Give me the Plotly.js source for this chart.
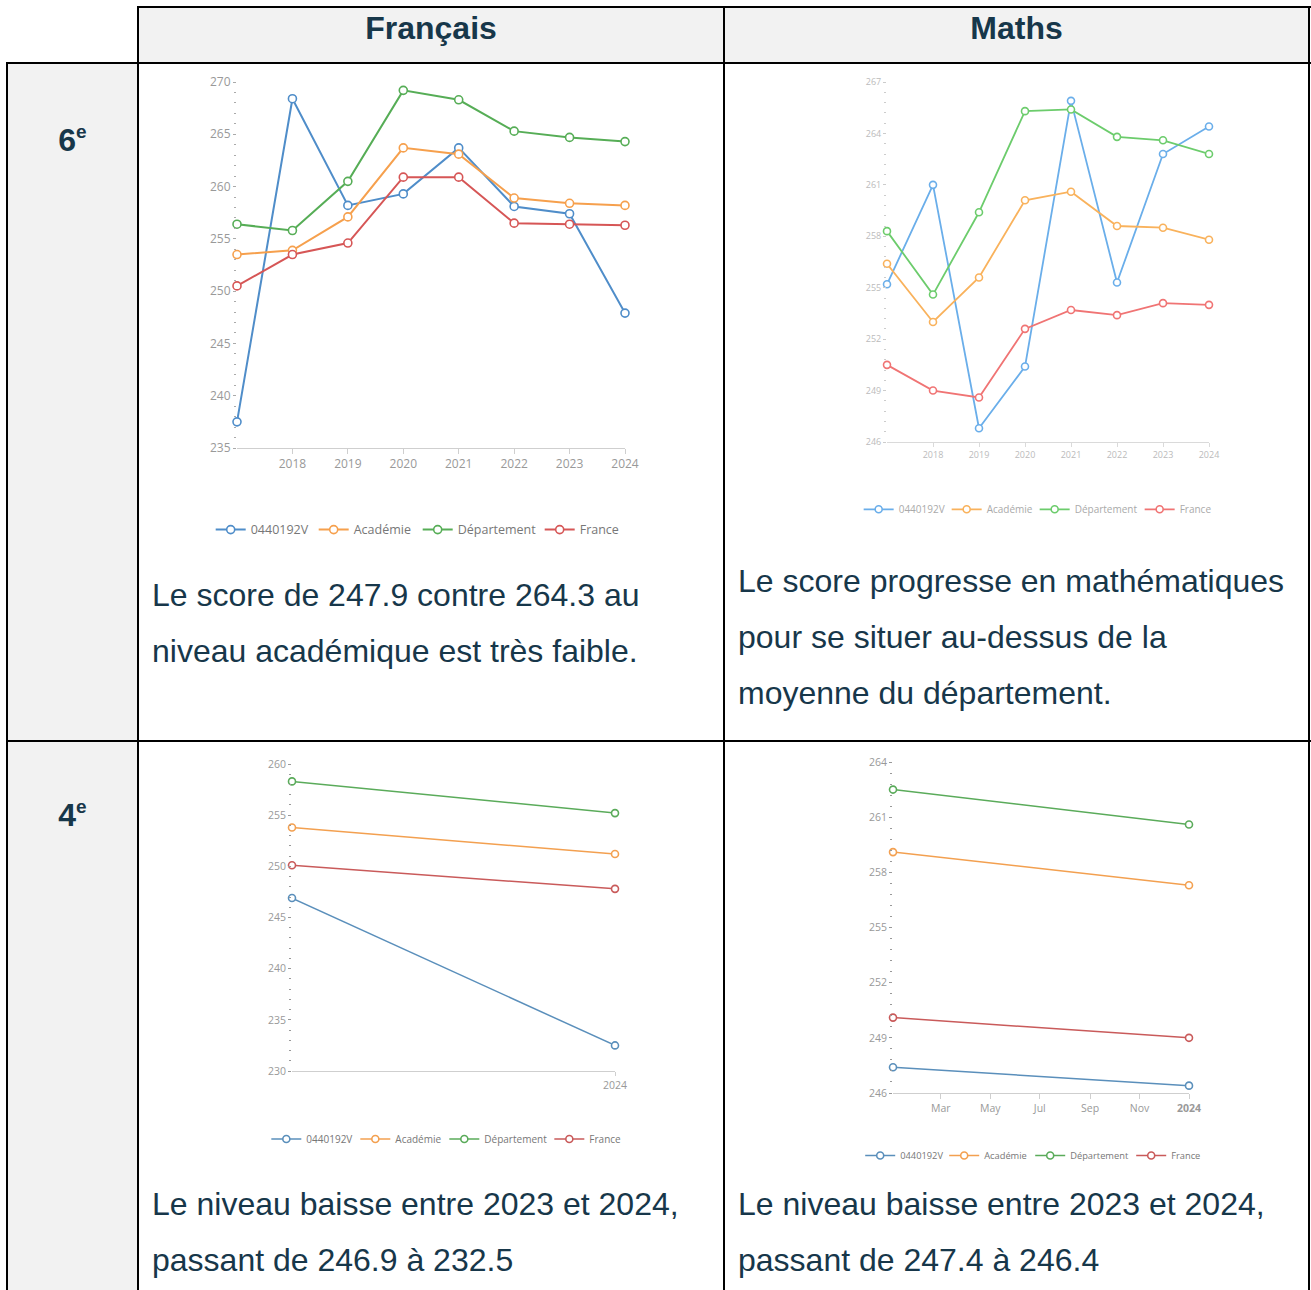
<!DOCTYPE html>
<html><head><meta charset="utf-8">
<script src="https://cdn.plot.ly/plotly-3.0.1.min.js"></script>
<style>
html,body{margin:0;padding:0;background:#fff;}
body{width:1311px;height:1290px;position:relative;overflow:hidden;font-family:"Liberation Sans",Arial,Helvetica,sans-serif;}
.abs{position:absolute;}
.bg{background:#f2f2f2;}
.ln{background:#000;}
.hdr{font-weight:bold;font-size:32px;color:#17374a;line-height:56px;text-align:center;white-space:nowrap;}
.rowh{font-weight:bold;font-size:32px;color:#17374a;line-height:56px;text-align:center;}
.rowh sup{font-size:19px;vertical-align:0;position:relative;top:-13px;}
.txt{font-size:32px;color:#17374a;line-height:56px;white-space:nowrap;}
.chart{position:absolute;}
</style></head>
<body>
<div class="abs bg" style="left:138px;top:7px;width:1171px;height:56px;"></div>
<div class="abs bg" style="left:7px;top:63px;width:131px;height:1227px;"></div>

<div class="abs hdr" style="left:138px;top:0px;width:586px;">Français</div>
<div class="abs hdr" style="left:724px;top:0px;width:585px;">Maths</div>
<div class="abs rowh" style="left:7px;top:112px;width:131px;">6<sup>e</sup></div>
<div class="abs rowh" style="left:7px;top:787px;width:131px;">4<sup>e</sup></div>

<div id="c1" class="chart" style="left:140px;top:65px;width:583px;height:500px;"></div>
<div id="c2" class="chart" style="left:726px;top:65px;width:582px;height:480px;"></div>
<div id="c3" class="chart" style="left:140px;top:745px;width:583px;height:440px;"></div>
<div id="c4" class="chart" style="left:726px;top:745px;width:582px;height:440px;"></div>

<div class="abs txt" style="left:152px;top:567px;">Le score de 247.9 contre 264.3 au<br>niveau académique est très faible.</div>
<div class="abs txt" style="left:738px;top:553px;">Le score progresse en mathématiques<br>pour se situer au-dessus de la<br>moyenne du département.</div>
<div class="abs txt" style="left:152px;top:1176px;">Le niveau baisse entre 2023 et 2024,<br>passant de 246.9 à 232.5</div>
<div class="abs txt" style="left:738px;top:1176px;">Le niveau baisse entre 2023 et 2024,<br>passant de 247.4 à 246.4</div>

<!-- table lines -->
<div class="abs ln" style="left:137px;top:6px;width:1174px;height:2px;"></div>
<div class="abs ln" style="left:6px;top:62px;width:1305px;height:2px;"></div>
<div class="abs ln" style="left:6px;top:740px;width:1305px;height:2px;"></div>
<div class="abs ln" style="left:6px;top:62px;width:2px;height:1228px;"></div>
<div class="abs ln" style="left:137px;top:6px;width:2px;height:1284px;"></div>
<div class="abs ln" style="left:723px;top:6px;width:2px;height:1284px;"></div>
<div class="abs ln" style="left:1308px;top:6px;width:2px;height:1284px;"></div>

<script>
// ---------- DATA ----------
const seriesNames = ["0440192V", "Académie", "Département", "France"];

const years6 = [2017, 2018, 2019, 2020, 2021, 2022, 2023, 2024];
const years6Ticks = [2018, 2019, 2020, 2021, 2022, 2023, 2024];

const fr6Etab = [237.5, 268.4, 258.2, 259.3, 263.7, 258.1, 257.4, 247.9];
const fr6Acad = [253.5, 253.9, 257.1, 263.7, 263.1, 258.9, 258.4, 258.2];
const fr6Dep  = [256.4, 255.8, 260.5, 269.2, 268.3, 265.3, 264.7, 264.3];
const fr6Fra  = [250.5, 253.5, 254.6, 260.9, 260.9, 256.5, 256.4, 256.3];

const ma6Etab = [255.2, 261.0, 246.8, 250.4, 265.9, 255.3, 262.8, 264.4];
const ma6Acad = [256.4, 253.0, 255.6, 260.1, 260.6, 258.6, 258.5, 257.8];
const ma6Dep  = [258.3, 254.6, 259.4, 265.3, 265.4, 263.8, 263.6, 262.8];
const ma6Fra  = [250.5, 249.0, 248.6, 252.6, 253.7, 253.4, 254.1, 254.0];

const years4 = [2023, 2024];
const years4Ticks = [2024];
const fr4Etab = [246.9, 232.5];
const fr4Acad = [253.8, 251.2];
const fr4Dep  = [258.3, 255.2];
const fr4Fra  = [250.1, 247.8];

const dates4 = ["2023-01-01", "2024-01-01"];
const dates4Ticks = ["2023-03-01", "2023-05-01", "2023-07-01", "2023-09-01", "2023-11-01", "2024-01-01"];
const dates4Labels = ["Mar", "May", "Jul", "Sep", "Nov", "<b>2024</b>"];
const ma4Etab = [247.4, 246.4];
const ma4Acad = [259.1, 257.3];
const ma4Dep  = [262.5, 260.6];
const ma4Fra  = [250.1, 249.0];

// ---------- STYLE ----------
const FONT = '"Open Sans", "DejaVu Sans", sans-serif';

function traces(x, ys, colors, lw, msize, lwidths) {
  return ys.map((y, i) => ({
    type: "scatter", mode: "lines+markers", x: x, y: y, name: seriesNames[i],
    cliponaxis: false, legendwidth: lwidths[i],
    line: {color: colors[i], width: lw},
    marker: {symbol: "circle", size: msize, color: "#fff", line: {color: colors[i], width: 1.6}}
  }));
}

function layout(o) {
  return {
    width: o.W, height: o.H,
    margin: {l: o.l, r: o.r, t: o.t, b: o.b, pad: 0},
    paper_bgcolor: "rgba(0,0,0,0)", plot_bgcolor: "rgba(0,0,0,0)",
    font: {family: FONT, color: o.tc, size: o.fs},
    showlegend: true,
    legend: {orientation: "h", x: o.lx, y: o.ly, xanchor: "left", yanchor: "middle",
             font: {size: o.lfs, color: o.lc, family: FONT}, itemwidth: 30, tracegroupgap: 0,
             borderwidth: 0, bgcolor: "rgba(0,0,0,0)"},
    xaxis: Object.assign({
      showgrid: false, zeroline: false, showline: true, linecolor: o.axc, linewidth: 1,
      ticks: "outside", ticklen: o.xtl, tickcolor: o.axc, tickfont: {size: o.fs, color: o.tc},
      fixedrange: true
    }, o.xa),
    yaxis: {
      range: o.yr, dtick: o.ydt, tick0: 0, showgrid: false, zeroline: false, showline: false,
      ticks: "outside", ticklen: 3, tickcolor: o.mtc, tickfont: {size: o.fs, color: o.tc},
      minor: {dtick: o.ymdt, ticks: "outside", ticklen: 2, tickcolor: o.mtc},
      fixedrange: true
    }
  };
}

const cfg = {displayModeBar: false, staticPlot: true};

// Chart 1 : Français 6e
Plotly.newPlot("c1",
  traces(years6, [fr6Etab, fr6Acad, fr6Dep, fr6Fra], ["#4f8dc9", "#f6a04d", "#56ad56", "#d65656"], 2, 8, [58, 59, 77, 40]),
  layout({W: 583, H: 500, l: 97, r: 98, t: 17, b: 117, tc: "#999", fs: 12, lc: "#777", lfs: 12.5,
          lx: -0.0678, ly: -0.224, axc: "#cfcfcf", mtc: "#aaa", xtl: 5,
          xa: {range: [2017, 2024], tickvals: years6Ticks, ticktext: years6Ticks.map(String)},
          yr: [235, 270], ydt: 5, ymdt: 1}), cfg);

// Chart 2 : Maths 6e
Plotly.newPlot("c2",
  traces(years6, [ma6Etab, ma6Acad, ma6Dep, ma6Fra], ["#6aaeea", "#f9b25c", "#6ccc6c", "#f07474"], 1.8, 7, [43, 43, 60, 34]),
  layout({W: 582, H: 480, l: 161, r: 99, t: 17, b: 103, tc: "#bbb", fs: 9, lc: "#aaa", lfs: 10,
          lx: -0.088, ly: -0.187, axc: "#dadada", mtc: "#ccc", xtl: 4,
          xa: {range: [2017, 2024], tickvals: years6Ticks, ticktext: years6Ticks.map(String)},
          yr: [246, 267], ydt: 3, ymdt: 0.6}), cfg);

// Chart 3 : Français 4e
Plotly.newPlot("c3",
  traces(years4, [fr4Etab, fr4Acad, fr4Dep, fr4Fra], ["#5a8fbb", "#f3a050", "#5aab5a", "#c95a5a"], 1.5, 7, [44, 44, 60, 32]),
  layout({W: 583, H: 440, l: 152, r: 108, t: 19, b: 114, tc: "#999", fs: 10.5, lc: "#777", lfs: 10,
          lx: -0.0795, ly: -0.2215, axc: "#cfcfcf", mtc: "#999", xtl: 4,
          xa: {range: [2023, 2024], tickvals: years4Ticks, ticktext: years4Ticks.map(String)},
          yr: [230, 260], ydt: 5, ymdt: 1}), cfg);

// Chart 4 : Maths 4e
Plotly.newPlot("c4",
  traces(dates4, [ma4Etab, ma4Acad, ma4Dep, ma4Fra], ["#5a8fbb", "#f3a050", "#5aab5a", "#c95a5a"], 1.5, 7, [39, 41, 56, 30]),
  layout({W: 582, H: 440, l: 167, r: 119, t: 17, b: 92, tc: "#999", fs: 10.5, lc: "#777", lfs: 9.3,
          lx: -0.1108, ly: -0.189, axc: "#cfcfcf", mtc: "#999", xtl: 5,
          xa: {type: "date", range: ["2023-01-01", "2024-01-01"], tickvals: dates4Ticks, ticktext: dates4Labels},
          yr: [246, 264], ydt: 3, ymdt: 0.6}), cfg);
</script>
</body></html>
